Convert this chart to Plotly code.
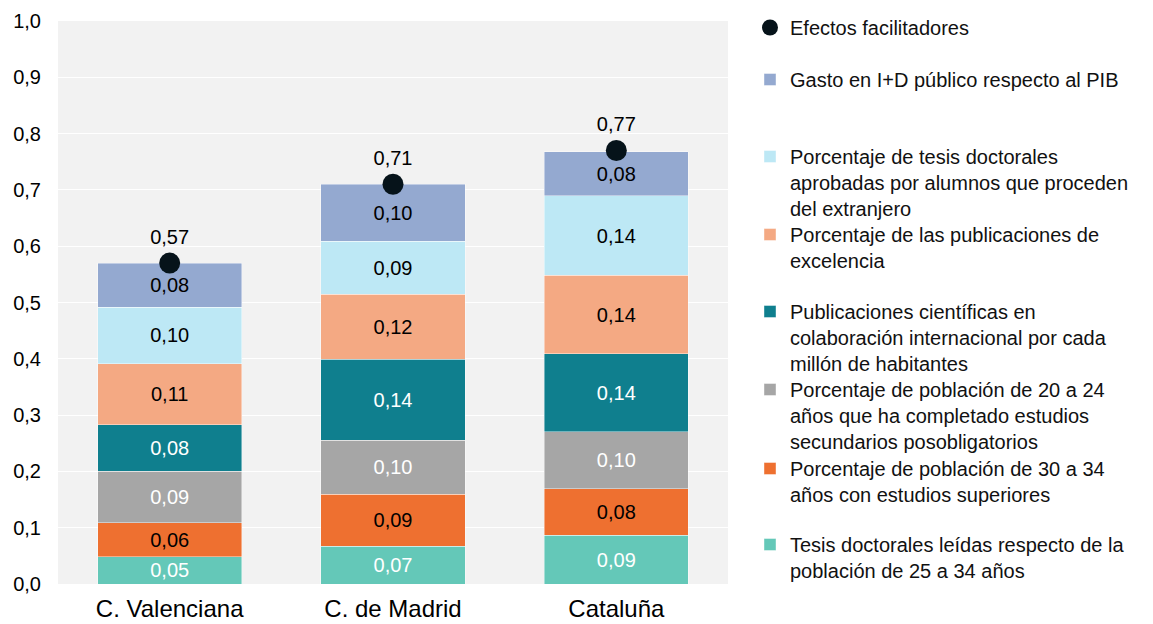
import plotly.graph_objects as go

regions = ["C. Valenciana", "C. de Madrid", "Cataluña"]

series_names = [
    "Tesis doctorales leídas respecto de la<br>población de 25 a 34 años",
    "Porcentaje de población de 30 a 34<br>años con estudios superiores",
    "Porcentaje de población de 20 a 24<br>años que ha completado estudios<br>secundarios posobligatorios",
    "Publicaciones científicas en<br>colaboración internacional por cada<br>millón de habitantes",
    "Porcentaje de las publicaciones de<br>excelencia",
    "Porcentaje de tesis doctorales<br>aprobadas por alumnos que proceden<br>del extranjero",
    "Gasto en I+D público respecto al PIB",
]

tesis_leidas = [0.048, 0.067, 0.087]
poblacion_30_34 = [0.061, 0.092, 0.082]
poblacion_20_24 = [0.091, 0.096, 0.101]
publicaciones_intl = [0.083, 0.144, 0.139]
publicaciones_excelencia = [0.108, 0.116, 0.139]
tesis_extranjero = [0.101, 0.094, 0.142]
gasto_id = [0.078, 0.101, 0.078]

efectos_name = "Efectos facilitadores"
efectos_facilitadores = [0.57, 0.71, 0.77]

series_values = [tesis_leidas, poblacion_30_34, poblacion_20_24, publicaciones_intl,
                 publicaciones_excelencia, tesis_extranjero, gasto_id]
colors = ["#64C8B8", "#EE7030", "#A6A6A6", "#0F7F8E", "#F4A983", "#BDE8F5", "#94A9D0"]
text_colors = ["white", "black", "white", "white", "black", "black", "black"]

# legend first-line centre (pixels from top)
legend_px = [545, 469, 390, 312, 235, 157, 80]
efectos_px = 28

FONT = "Liberation Sans, Arial, sans-serif"
L, R, T, B = 58, 425, 21, 40
H = 624
plot_h = H - T - B
OFF = 20

def ypaper(px):
    return (H - B - (px - OFF)) / plot_h

leg_x = (750 - L) / 670

fig = go.Figure()
layout_legends = {}
for i, (name, vals, col, tc) in enumerate(zip(series_names, series_values, colors, text_colors)):
    lk = f"legend{i + 2}"
    fig.add_trace(go.Bar(
        x=regions, y=vals, name=name, marker=dict(color=col, line=dict(width=0.6, color="rgba(255,255,255,0.7)")),
        texttemplate="%{y:.2f}", textposition="inside", insidetextanchor="middle",
        textangle=0, constraintext="none",
        textfont=dict(color=tc, size=20, family=FONT),
        legend=lk, hoverinfo="skip",
    ))
    layout_legends[lk] = dict(x=leg_x, y=ypaper(legend_px[i]), xanchor="left", yanchor="top",
                              bgcolor="rgba(0,0,0,0)", valign="top",
                              font=dict(size=20, family=FONT, color="#111"))

fig.add_trace(go.Scatter(
    x=regions, y=efectos_facilitadores, name=efectos_name, mode="markers",
    marker=dict(size=21, color="#06131A"), legend="legend", hoverinfo="skip",
))
fig.add_trace(go.Scatter(
    x=regions, y=efectos_facilitadores, mode="markers+text", showlegend=False,
    marker=dict(size=21, opacity=0), texttemplate="%{y:.2f}", textposition="top center",
    textfont=dict(size=20, family=FONT, color="black"), hoverinfo="skip",
))
layout_legends["legend"] = dict(x=leg_x, y=ypaper(efectos_px), xanchor="left", yanchor="top",
                                bgcolor="rgba(0,0,0,0)", font=dict(size=20, family=FONT, color="#111"))

fig.update_layout(
    width=1153, height=624,
    margin=dict(l=L, r=R, t=T, b=B, autoexpand=False),
    barmode="stack", bargap=0.355,
    separators=", ",
    paper_bgcolor="white", plot_bgcolor="#F2F2F2",
    font=dict(family=FONT, size=20, color="black"),
    xaxis=dict(showgrid=False, ticks="", tickfont=dict(size=24, family=FONT), ticklabelstandoff=8,
               showline=False, zeroline=False),
    yaxis=dict(range=[0, 1.0], dtick=0.1, tickformat=".1f", showgrid=True, gridcolor="white",
               gridwidth=1.2, zeroline=False, ticks="", ticklabelstandoff=16,
               tickfont=dict(size=20, family=FONT)),
    **layout_legends,
)

fig.write_html("out.html", config={"displayModeBar": False},
               post_script="document.body.style.margin='0';document.body.style.overflow='hidden';")
